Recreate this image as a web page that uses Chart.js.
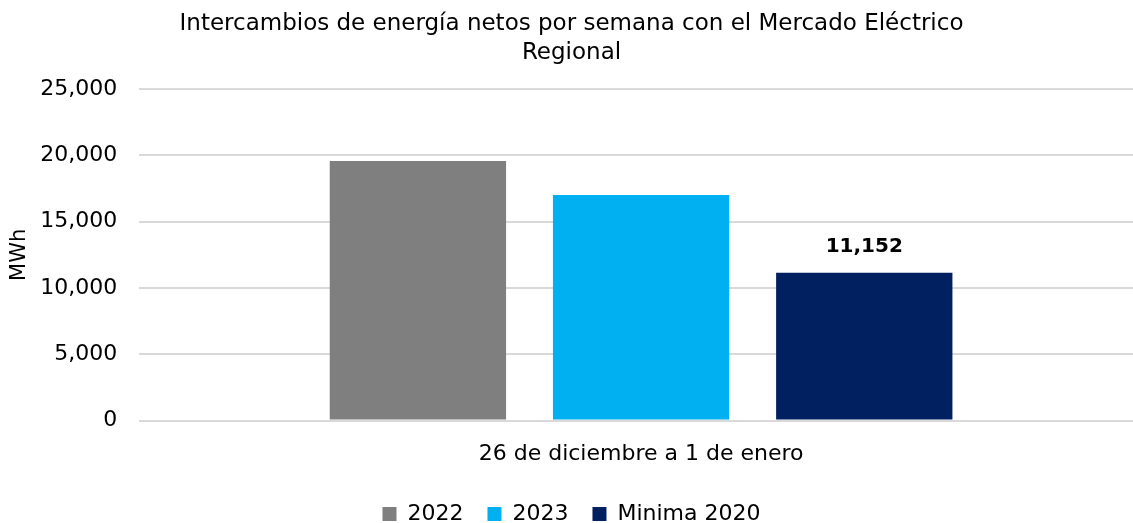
<!DOCTYPE html>
<html>
<head>
<meta charset="utf-8">
<script src="https://cdn.jsdelivr.net/npm/chart.js@4.4.0/dist/chart.umd.min.js"></script>
<style>
  html, body { margin: 0; padding: 0; background: #fff; overflow: hidden; }
  #wrap { width: 1143px; height: 523px; }
</style>
</head>
<body>
<div id="wrap"><canvas id="chart"></canvas></div>
<script>
// data
var categories = ["26 de diciembre a 1 de enero"];
var serie2022 = [19560];
var serie2023 = [17000];
var minima2020 = [11152];
var seriesNames = ["2022", "2023", "Minima 2020"];
var seriesColors = ["#7f7f7f", "#00b0f0", "#002060"];
var yTicks = [0, 5000, 10000, 15000, 20000, 25000];

var FONT = "'DejaVu Sans', sans-serif";

// label on top of the last series only
var valueLabels = {
  id: 'valueLabels',
  afterDatasetsDraw: function(chart) {
    var ctx = chart.ctx;
    var meta = chart.getDatasetMeta(2);
    ctx.save();
    ctx.font = "bold 20px " + FONT;
    ctx.fillStyle = "#000";
    ctx.textAlign = "center";
    ctx.textBaseline = "bottom";
    meta.data.forEach(function(bar, i) {
      var v = chart.data.datasets[2].data[i];
      ctx.fillText(v.toLocaleString('en-US'), bar.x, bar.y - 16);
    });
    ctx.restore();
  }
};

new Chart(document.getElementById("chart"), {
  type: 'bar',
  data: {
    labels: categories,
    datasets: [
      { label: seriesNames[0], data: serie2022, backgroundColor: seriesColors[0] },
      { label: seriesNames[1], data: serie2023, backgroundColor: seriesColors[1] },
      { label: seriesNames[2], data: minima2020, backgroundColor: seriesColors[2] }
    ]
  },
  options: {
    responsive: true,
    maintainAspectRatio: false,
    animation: false,
    categoryPercentage: 0.667,
    barPercentage: 0.79,
    layout: { padding: { left: 0, right: 0, top: 7, bottom: -12 } },
    plugins: {
      title: {
        display: true,
        text: ["Intercambios de energía netos por semana con el Mercado Eléctrico", "Regional"],
        color: "#000",
        font: { family: FONT, size: 23, weight: 'normal', lineHeight: 1.26 },
        padding: { top: 3, bottom: 21 }
      },
      legend: {
        position: 'bottom',
        labels: {
          color: "#000",
          font: { family: FONT, size: 22 },
          boxWidth: 14,
          boxHeight: 14,
          padding: 24,
          generateLabels: function(chart) {
            return chart.data.datasets.map(function(ds, i) {
              return {
                text: ds.label,
                fillStyle: ds.backgroundColor,
                strokeStyle: ds.backgroundColor,
                lineWidth: 0,
                datasetIndex: i,
                fontColor: "#000"
              };
            });
          }
        }
      },
      tooltip: { enabled: false }
    },
    scales: {
      x: {
        grid: { display: false },
        border: { display: false },
        ticks: { color: "#000", font: { family: FONT, size: 22 }, padding: 12 }
      },
      y: {
        min: yTicks[0],
        max: yTicks[yTicks.length - 1],
        afterBuildTicks: function(axis) {
          axis.ticks = yTicks.map(function(v) { return { value: v }; });
        },
        border: { display: false },
        grid: { color: "#d9d9d9", lineWidth: 2, drawTicks: false },
        ticks: {
          color: "#000",
          font: { family: FONT, size: 22 },
          padding: 22,
          callback: function(v) { return v.toLocaleString('en-US'); }
        },
        title: {
          display: true,
          text: "MWh",
          color: "#000",
          font: { family: FONT, size: 21 },
          padding: { top: 7, bottom: -14 }
        }
      }
    }
  },
  plugins: [valueLabels]
});
</script>
</body>
</html>
